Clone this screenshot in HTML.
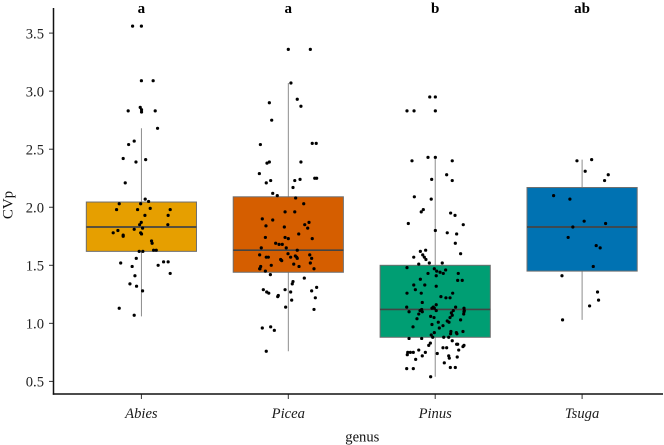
<!DOCTYPE html>
<html>
<head>
<meta charset="utf-8">
<title>CVp by genus</title>
<style>
html,body{margin:0;padding:0;background:#fff;width:664px;height:445px;overflow:hidden}
svg{display:block}
text{font-family:"Liberation Serif",serif}
</style>
</head>
<body>
<svg id="chart" xmlns="http://www.w3.org/2000/svg" width="664" height="445" viewBox="0 0 664 445"></svg>
<script>
const categories = ['Abies', 'Picea', 'Pinus', 'Tsuga'];
const sigLabels = ['a', 'a', 'b', 'ab'];
const yTicks = [0.5, 1.0, 1.5, 2.0, 2.5, 3.0, 3.5];
const q1 = [1.62, 1.44, 0.88, 1.45];
const median = [1.83, 1.63, 1.12, 1.83];
const q3 = [2.045, 2.09, 1.50, 2.17];
const whiskerLow = [1.06, 0.76, 0.54, 1.03];
const whiskerHigh = [2.68, 3.07, 2.43, 2.41];
const fills = ['#E69F00', '#D55E00', '#009E73', '#0072B2'];

// Each point: [horizontal jitter in category units, CVp value]
const abiesPoints = [[-.060,3.56],[0,3.56],[0,3.09],[.080,3.09],[-.090,2.83],[-.008,2.86],[.001,2.84],[.001,2.82],[.094,2.83],[.110,2.68],[-.049,2.57],[-.087,2.54],[-.124,2.42],[.029,2.41],[-.037,2.39],[-.110,2.21],[.026,2.07],[.049,2.05],[-.151,2.03],[-.005,2.03],[-.169,1.98],[-.026,1.98],[.060,1.99],[.196,1.98],[.024,1.93],[.182,1.93],[-.001,1.87],[-.012,1.85],[.180,1.85],[-.049,1.81],[.008,1.82],[-.192,1.78],[-.160,1.80],[-.124,1.76],[-.124,1.75],[-.005,1.78],[.001,1.77],[.069,1.71],[.073,1.69],[-.015,1.62],[.010,1.62],[.083,1.63],[.101,1.63],[-.035,1.56],[-.141,1.52],[-.063,1.49],[.114,1.50],[.151,1.53],[.182,1.53],[.196,1.43],[-.044,1.41],[-.078,1.34],[-.033,1.32],[.008,1.28],[-.151,1.13],[-.049,1.07]];
const piceaPoints = [[0,3.36],[.150,3.36],[.018,3.07],[-.129,2.90],[.061,2.93],[.086,2.87],[-.113,2.75],[-.190,2.54],[.163,2.55],[.190,2.55],[-.145,2.38],[-.129,2.39],[.086,2.39],[-.197,2.29],[-.150,2.21],[-.120,2.23],[.044,2.23],[.080,2.24],[.180,2.25],[.193,2.25],[.032,2.17],[-.106,2.12],[-.075,2.10],[.050,2.08],[.105,2.03],[-.022,1.96],[.044,1.96],[-.177,1.90],[-.106,1.89],[.141,1.87],[.112,1.85],[-.152,1.84],[-.027,1.83],[.132,1.82],[.071,1.77],[-.156,1.74],[-.022,1.74],[0,1.73],[.163,1.73],[-.086,1.69],[-.063,1.68],[-.041,1.68],[-.014,1.65],[-.184,1.65],[.061,1.63],[-.195,1.59],[-.002,1.60],[.146,1.59],[-.150,1.57],[-.136,1.57],[.016,1.57],[.048,1.58],[.057,1.57],[.061,1.56],[.159,1.56],[-.052,1.55],[-.045,1.54],[.037,1.51],[.150,1.52],[-.116,1.50],[.073,1.49],[-.188,1.49],[-.193,1.47],[-.195,1.47],[.175,1.47],[-.156,1.45],[-.122,1.42],[.109,1.39],[.032,1.36],[.027,1.34],[.193,1.31],[-.022,1.29],[-.170,1.29],[-.147,1.27],[-.133,1.26],[.016,1.27],[.159,1.28],[-.068,1.24],[-.072,1.23],[.184,1.22],[.023,1.20],[-.018,1.14],[.175,1.12],[-.177,.96],[-.120,.97],[-.095,.94],[-.150,.76]];
const pinusPoints = [[-.037,2.95],[.001,2.95],[-.192,2.83],[-.144,2.83],[.001,2.83],[-.049,2.43],[.001,2.43],[-.158,2.40],[.116,2.40],[.078,2.28],[-.024,2.24],[.116,2.23],[-.142,2.09],[-.027,2.07],[-.081,1.98],[-.095,1.96],[.105,1.95],[.135,1.93],[-.183,1.86],[.191,1.85],[.001,1.80],[.082,1.78],[.146,1.77],[.137,1.69],[-.065,1.63],[-.101,1.62],[.173,1.60],[-.146,1.57],[-.085,1.59],[-.074,1.57],[-.063,1.55],[-.040,1.52],[.048,1.52],[-.112,1.51],[-.192,1.48],[-.006,1.47],[.010,1.45],[.071,1.46],[.033,1.44],[.055,1.43],[-.049,1.43],[.007,1.41],[.157,1.43],[-.101,1.38],[.153,1.37],[.184,1.37],[-.146,1.33],[-.071,1.33],[.007,1.32],[-.135,1.29],[-.192,1.26],[-.095,1.26],[.119,1.26],[.039,1.23],[.073,1.22],[.101,1.22],[-.088,1.18],[.007,1.16],[-.194,1.14],[-.013,1.14],[.139,1.14],[-.022,1.13],[.196,1.13],[-.006,1.13],[-.178,1.10],[-.092,1.12],[-.103,1.11],[-.088,1.10],[.007,1.11],[.198,1.11],[.123,1.11],[.196,1.10],[.194,1.08],[-.112,1.08],[.110,1.09],[.116,1.07],[.101,1.05],[-.031,1.06],[-.008,1.05],[-.124,1.04],[.082,1.02],[.094,1.01],[.021,1.01],[.173,1.03],[-.022,.99],[.053,.98],[.028,.96],[-.151,.97],[-.006,.92],[.144,.92],[.189,.93],[.107,.93],[.105,.91],[.148,.91],[-.027,.90],[-.017,.88],[.058,.88],[.092,.88],[-.092,.87],[-.178,.87],[.116,.85],[-.033,.83],[-.044,.81],[.196,.81],[.146,.82],[.153,.82],[.189,.80],[.053,.79],[.078,.79],[.160,.77],[-.112,.77],[-.187,.75],[-.169,.75],[-.149,.75],[-.067,.75],[-.190,.73],[.014,.74],[-.088,.72],[.092,.72],[.096,.70],[.150,.71],[-.133,.69],[.062,.66],[-.194,.61],[-.149,.61],[.103,.62],[.137,.62],[-.031,.54]];
const tsugaPoints = [[-.035,2.40],[.065,2.41],[.021,2.31],[.178,2.28],[.153,2.23],[-.194,2.10],[-.083,2.07],[.014,1.88],[.160,1.86],[-.063,1.83],[-.095,1.74],[.096,1.67],[.123,1.65],[.076,1.49],[-.137,1.41],[.105,1.27],[.112,1.20],[.051,1.15],[-.133,1.03]];
const seriesPoints = [abiesPoints, piceaPoints, pinusPoints, tsugaPoints];

const NS = 'http://www.w3.org/2000/svg';
const svg = document.getElementById('chart');
const xScale = function (c) { return 141.4 + 146.9 * c; };
const yScale = function (v) { return 381.4 - (v - 0.5) * 116.1; };
const BOX_WIDTH = 0.75;

function make(tag, attrs, parent) {
  const el = document.createElementNS(NS, tag);
  for (const k in attrs) el.setAttribute(k, attrs[k]);
  (parent || svg).appendChild(el);
  return el;
}

categories.forEach(function (cat, i) {
  const cx = xScale(i);
  const group = make('g', {});
  
  

  const whisker = make('line', {x1: cx, x2: cx, y1: yScale(whiskerHigh[i]), y2: yScale(whiskerLow[i]), stroke: '#808080', 'stroke-width': 0.9}, group);
  
  

  const left = xScale(i - BOX_WIDTH / 2);
  const right = xScale(i + BOX_WIDTH / 2);
  const box = make('rect', {x: left, y: yScale(q3[i]), width: right - left, height: yScale(q1[i]) - yScale(q3[i]), fill: fills[i], stroke: '#6e6e6e', 'stroke-width': 1}, group);
  
  

  const med = make('line', {x1: left, x2: right, y1: yScale(median[i]), y2: yScale(median[i]), stroke: '#444', 'stroke-width': 1.7}, group);
  
  

  seriesPoints[i].forEach(function (p) {
    const dot = make('circle', {cx: xScale(i + p[0]), cy: yScale(p[1]), r: 1.6, fill: '#000'}, group);
    
    
  });

  const sig = make('text', {x: cx, y: 13, 'text-anchor': 'middle', 'font-size': 15, 'font-weight': 'bold', fill: '#000'});
  sig.textContent = sigLabels[i];
  
  

  const tick = make('line', {x1: cx, x2: cx, y1: 394, y2: 399, stroke: '#333', 'stroke-width': 1});
  
  

  const label = make('text', {x: cx, y: 418, 'text-anchor': 'middle', 'font-size': 14.6, 'font-style': 'italic', fill: '#1a1a1a'});
  label.textContent = cat;
  
  
});

yTicks.forEach(function (t) {
  const y = yScale(t);
  const tick = make('line', {x1: 49, x2: 53, y1: y, y2: y, stroke: '#333', 'stroke-width': 1});
  
  
  const label = make('text', {x: 44, y: y + 5.2, 'text-anchor': 'end', 'font-size': 14.6, fill: '#222'});
  label.textContent = t.toFixed(1);
  
  
});

const axisY = make('line', {x1: 53.5, x2: 53.5, y1: 8, y2: 394.7, stroke: '#111', 'stroke-width': 1.5});



const axisX = make('line', {x1: 52.8, x2: 663, y1: 394, y2: 394, stroke: '#111', 'stroke-width': 1.5});



const xTitle = make('text', {x: 362.3, y: 441.5, 'text-anchor': 'middle', 'font-size': 14.6, fill: '#111'});
xTitle.textContent = 'genus';



const yTitle = make('text', {x: 0, y: 0, 'text-anchor': 'middle', 'font-size': 15, fill: '#111', transform: 'translate(12.5,205) rotate(-90)'});
yTitle.textContent = 'CVp';


</script>
</body>
</html>
